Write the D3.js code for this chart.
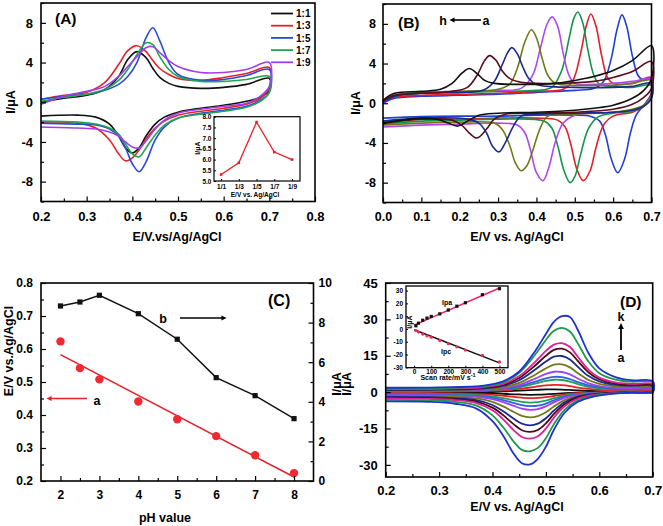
<!DOCTYPE html>
<html><head><meta charset="utf-8">
<script src="https://cdn.jsdelivr.net/npm/d3@7"></script>
<style>
body{margin:0;background:#fff;}
svg{display:block;}
</style></head><body>
<svg id="c" width="663" height="526"></svg>
<script>
// ================= DATA =================
// ---- Panel A : CVs at different ratios ----
const aLegend = ["1:1","1:3","1:5","1:7","1:9"];
const aColors = ["#111111","#e8202a","#2a4bd7","#22a550","#a03ff0"];
const aXTicks = [0.2,0.3,0.4,0.5,0.6,0.7,0.8];
const aYTicks = [-8,-4,0,4,8];
const aFwdE = [0.2,0.25,0.3,0.34,0.37,0.39,0.41,0.43,0.445,0.46,0.48,0.5,0.55,0.6,0.65,0.7];
const aRevE = [0.7,0.68,0.65,0.6,0.55,0.5,0.47,0.45,0.43,0.415,0.40,0.385,0.37,0.35,0.32,0.28,0.2];
const aFwd_11 = [0.0,0.4,0.7,1.3,2.6,4.3,5.1,4.5,3.4,2.5,1.9,1.6,1.4,1.5,1.8,2.4];
const aFwd_13 = [0.3,0.7,1.0,2.0,3.8,5.2,5.7,5.1,4.2,3.4,2.8,2.4,2.2,2.5,2.9,3.5];
const aFwd_15 = [0.3,0.6,0.8,1.2,1.8,2.6,4.0,6.5,7.5,6.2,4.0,2.8,2.2,2.3,2.7,3.3];
const aFwd_17 = [0.1,0.5,0.8,1.3,2.2,3.3,4.8,6.0,5.8,4.6,3.3,2.6,2.1,2.1,2.3,2.6];
const aFwd_19 = [-0.2,0.6,1.1,1.6,2.6,3.6,4.6,5.5,5.6,5.0,4.2,3.6,3.0,3.0,3.3,4.0];
const aRev_11 = [1.2,0.5,0.1,-0.3,-0.6,-1.0,-1.5,-2.2,-3.4,-4.6,-5.1,-4.6,-3.4,-2.2,-1.5,-1.3,-1.4];
const aRev_13 = [1.5,0.4,-0.2,-0.6,-0.9,-1.3,-1.9,-2.6,-3.7,-4.8,-5.6,-5.9,-5.2,-3.8,-2.6,-2.1,-2.0];
const aRev_15 = [1.0,0.2,-0.4,-0.8,-1.1,-1.6,-2.5,-3.8,-6.0,-7.0,-6.2,-4.6,-3.4,-2.7,-2.3,-2.2,-2.1];
const aRev_17 = [1.0,0.1,-0.5,-0.9,-1.2,-1.6,-2.3,-3.3,-4.6,-5.5,-5.2,-4.2,-3.2,-2.6,-2.2,-2.0,-1.9];
const aRev_19 = [1.6,0.6,-0.1,-0.4,-0.7,-1.1,-1.8,-2.7,-3.9,-4.6,-4.5,-4.0,-3.4,-3.0,-2.7,-2.6,-2.5];
// inset A
const aInsetCat = ["1/1","1/3","1/5","1/7","1/9"];
const aInsetVal = [5.3,5.85,7.75,6.35,6.0];
const aInsetYTicks = [5.0,5.5,6.0,6.5,7.0,7.5,8.0];

// ---- Panel B : CVs at pH values (a..h) ----
const bNames = ["a","b","c","d","e","f","g","h"];
const bColors = ["#1f3fd6","#e41e26","#14944a","#b048f0","#6f7a1a","#1b2a8f","#5a0f1e","#111111"];
const bXTicks = [0,0.1,0.2,0.3,0.4,0.5,0.6,0.7];
const bFwd_a = [[0,0.0],[0.03,0.5],[0.1,0.7],[0.2,0.8],[0.3,0.9],[0.4,1.1],[0.5,1.3],[0.55,1.5],[0.575,2.2],[0.595,4.5],[0.61,7.4],[0.623,8.9],[0.635,7.8],[0.65,4.8],[0.665,2.8],[0.68,2.3],[0.7,2.5]];
const bRev_a = [[0.7,1.0],[0.68,-0.2],[0.66,-1.2],[0.645,-3.0],[0.63,-5.6],[0.612,-7.0],[0.595,-5.6],[0.58,-3.2],[0.565,-1.8],[0.54,-1.3],[0.5,-1.2],[0.4,-1.2],[0.3,-1.3],[0.2,-1.3],[0.1,-1.35],[0,-1.5]];
const bFwd_b = [[0,0.2],[0.03,0.6],[0.1,0.8],[0.2,0.9],[0.3,1.0],[0.4,1.2],[0.47,1.4],[0.495,2.3],[0.515,5.0],[0.53,7.8],[0.542,9.0],[0.555,7.8],[0.57,4.8],[0.585,2.6],[0.6,2.0],[0.65,2.0],[0.7,2.6]];
const bRev_b = [[0.7,1.0],[0.68,-0.3],[0.65,-0.9],[0.6,-1.3],[0.575,-2.2],[0.555,-4.5],[0.54,-6.8],[0.522,-7.8],[0.505,-6.6],[0.49,-4.2],[0.475,-2.4],[0.455,-1.7],[0.4,-1.5],[0.3,-1.5],[0.2,-1.6],[0.1,-1.6],[0,-1.8]];
const bFwd_c = [[0,0.2],[0.03,0.7],[0.1,1.0],[0.2,1.1],[0.3,1.2],[0.4,1.3],[0.44,1.6],[0.465,3.2],[0.485,6.5],[0.498,8.6],[0.508,9.2],[0.52,8.2],[0.535,5.2],[0.55,2.8],[0.565,1.9],[0.6,1.7],[0.65,1.6],[0.7,1.8]];
const bRev_c = [[0.7,0.6],[0.68,-0.3],[0.65,-0.8],[0.6,-1.0],[0.56,-1.4],[0.535,-2.6],[0.515,-5.2],[0.5,-7.4],[0.488,-8.0],[0.472,-6.8],[0.455,-4.2],[0.44,-2.5],[0.42,-1.8],[0.3,-1.6],[0.2,-1.7],[0.1,-1.8],[0,-2.1]];
const bFwd_d = [[0,0.1],[0.03,0.8],[0.1,1.1],[0.2,1.2],[0.3,1.3],[0.36,1.5],[0.39,2.8],[0.41,5.5],[0.428,8.0],[0.441,8.7],[0.455,7.8],[0.47,5.0],[0.485,2.8],[0.5,2.0],[0.55,1.9],[0.6,2.0],[0.65,2.2],[0.7,2.4]];
const bRev_d = [[0.7,0.8],[0.68,-0.2],[0.65,-0.7],[0.6,-0.9],[0.5,-1.2],[0.47,-2.0],[0.45,-3.8],[0.432,-6.5],[0.417,-7.8],[0.4,-7.0],[0.385,-4.8],[0.37,-3.0],[0.35,-2.2],[0.3,-2.0],[0.2,-2.1],[0.1,-2.2],[0,-2.4]];
const bFwd_e = [[0,0.2],[0.03,0.8],[0.1,1.1],[0.2,1.2],[0.3,1.4],[0.33,1.9],[0.35,3.5],[0.37,6.2],[0.387,7.4],[0.4,6.6],[0.415,4.5],[0.43,2.8],[0.45,2.0],[0.5,1.8],[0.55,1.8],[0.6,1.8],[0.65,2.0],[0.7,2.3]];
const bRev_e = [[0.7,0.7],[0.68,-0.2],[0.65,-0.6],[0.6,-0.9],[0.5,-1.1],[0.43,-1.3],[0.41,-2.5],[0.39,-4.8],[0.375,-6.3],[0.36,-6.8],[0.345,-6.0],[0.33,-4.2],[0.31,-2.6],[0.29,-2.0],[0.2,-1.9],[0.1,-2.0],[0,-2.2]];
const bFwd_f = [[0,0.1],[0.03,0.7],[0.1,1.0],[0.2,1.1],[0.26,1.3],[0.29,2.2],[0.31,3.8],[0.325,5.1],[0.336,5.6],[0.35,5.0],[0.365,3.6],[0.38,2.5],[0.4,1.9],[0.5,1.6],[0.6,1.6],[0.65,1.7],[0.7,2.0]];
const bRev_f = [[0.7,0.5],[0.68,-0.3],[0.65,-0.7],[0.6,-0.9],[0.5,-1.0],[0.4,-1.1],[0.36,-1.3],[0.34,-2.3],[0.32,-3.9],[0.302,-4.9],[0.285,-4.3],[0.27,-3.0],[0.25,-2.0],[0.22,-1.6],[0.1,-1.5],[0,-1.8]];
const bFwd_g = [[0,0.2],[0.03,0.8],[0.1,1.0],[0.18,1.2],[0.22,1.6],[0.245,2.8],[0.265,4.3],[0.278,4.8],[0.295,4.3],[0.31,3.3],[0.33,2.5],[0.36,2.1],[0.45,2.0],[0.55,2.2],[0.6,2.6],[0.65,3.2],[0.7,4.2]];
const bRev_g = [[0.7,1.5],[0.68,0.6],[0.65,-0.1],[0.6,-0.6],[0.5,-0.9],[0.4,-1.0],[0.32,-1.1],[0.29,-1.6],[0.27,-2.6],[0.245,-3.5],[0.225,-3.0],[0.205,-2.2],[0.18,-1.7],[0.1,-1.6],[0,-2.0]];
const bFwd_h = [[0,0.3],[0.03,1.0],[0.1,1.2],[0.15,1.4],[0.18,2.0],[0.205,3.0],[0.225,3.5],[0.245,3.0],[0.265,2.3],[0.29,2.0],[0.35,1.9],[0.45,2.0],[0.5,2.3],[0.55,2.7],[0.6,3.3],[0.65,4.3],[0.7,5.8]];
const bRev_h = [[0.7,2.5],[0.68,1.3],[0.65,0.5],[0.6,-0.2],[0.55,-0.5],[0.5,-0.7],[0.4,-0.9],[0.3,-1.0],[0.25,-1.2],[0.22,-1.8],[0.195,-2.3],[0.17,-2.0],[0.14,-1.6],[0.1,-1.5],[0,-2.0]];

// ---- Panel C : pH dependence ----
const cPH = [2,2.5,3,4,5,6,7,8];
const cEp = [0.623,0.542,0.508,0.441,0.387,0.336,0.278,0.224];
const cIp = [8.84,9.04,9.38,8.45,7.16,5.22,4.31,3.15];
const cFitPH = [2,8];
const cFitE = [0.583,0.212];
const cXTicks = [2,3,4,5,6,7,8];
const cYTicks = [0.2,0.3,0.4,0.5,0.6,0.7,0.8];
const cY2Ticks = [0,2,4,6,8,10];

// ---- Panel D : scan rates (a..k) ----
const dNames = ["a","b","c","d","e","f","g","h","i","j","k"];
const dColors = ["#111111","#e8202a","#22a05a","#3060e0","#a040f0","#717a1e","#1b2a8f","#4a0a1a","#e0209a","#1f9a4a","#1f32d0"];
const dXTicks = [0.2,0.3,0.4,0.5,0.6,0.7];
const dYTicks = [-30,-15,0,15,30,45];
const dFwdE = [0.2,0.3,0.38,0.42,0.45,0.48,0.5,0.515,0.53,0.545,0.56,0.58,0.6,0.63,0.66,0.7];
const dRevE = [0.7,0.66,0.62,0.59,0.56,0.535,0.515,0.5,0.485,0.47,0.455,0.44,0.42,0.4,0.37,0.33,0.28,0.2];
const dFwd_a = [0.0,0.05,0.2,0.3,0.6,0.9,1.1,1.1,1.05,0.9,0.7,0.5,0.4,0.3,0.3,0.3];
const dFwd_b = [0.1,0.2,0.4,0.7,1.3,2.2,2.8,3.0,2.9,2.5,1.9,1.3,0.9,0.7,0.6,0.6];
const dFwd_c = [0.3,0.4,0.7,1.1,2.0,3.5,4.6,5.1,5.0,4.3,3.3,2.2,1.6,1.1,1.0,1.0];
const dFwd_d = [0.4,0.5,0.8,1.3,2.4,4.3,5.7,6.3,6.2,5.4,4.1,2.8,2.0,1.4,1.2,1.2];
const dFwd_e = [0.5,0.6,1.0,1.6,3.0,5.6,7.5,8.4,8.3,7.3,5.6,3.6,2.5,1.8,1.6,1.5];
const dFwd_f = [0.7,0.8,1.2,2.0,3.8,7.2,9.8,11.3,11.4,10.2,7.8,5.0,3.4,2.4,2.1,2.0];
const dFwd_g = [0.9,1.0,1.5,2.6,4.9,9.3,12.6,14.6,14.9,13.5,10.4,6.6,4.4,3.0,2.6,2.5];
const dFwd_h = [1.0,1.2,1.8,3.0,5.8,11.0,15.0,17.4,17.9,16.4,12.8,8.1,5.3,3.5,3.0,2.9];
const dFwd_i = [1.2,1.4,2.0,3.4,6.6,12.5,17.0,19.6,20.2,18.6,14.5,9.2,6.0,4.0,3.4,3.2];
const dFwd_j = [1.5,1.7,2.3,4.0,8.0,15.5,21.5,25.3,26.5,25.0,20.0,12.5,7.8,5.2,4.3,4.0];
const dFwd_k = [1.8,2.0,2.6,4.5,8.5,17.0,24.0,29.0,31.3,31.0,25.5,16.0,9.8,6.2,4.9,4.5];
const dRev_a = [0.1,0,0,-0.1,-0.2,-0.4,-0.7,-0.9,-1.05,-1.1,-1.0,-0.9,-0.7,-0.5,-0.4,-0.3,-0.3,-0.3];
const dRev_b = [0.1,0,0,-0.2,-0.4,-0.9,-1.6,-2.1,-2.4,-2.5,-2.3,-2.0,-1.5,-1.1,-0.8,-0.7,-0.6,-0.6];
const dRev_c = [0.1,0,-0.1,-0.3,-0.7,-1.4,-2.5,-3.5,-4.1,-4.3,-4.0,-3.4,-2.5,-1.8,-1.2,-1.0,-0.9,-0.9];
const dRev_d = [0.1,0,-0.1,-0.4,-0.9,-1.9,-3.4,-4.7,-5.6,-5.8,-5.4,-4.5,-3.3,-2.4,-1.6,-1.2,-1.1,-1.1];
const dRev_e = [0.1,0,-0.2,-0.5,-1.1,-2.4,-4.2,-5.9,-7.0,-7.3,-6.8,-5.7,-4.1,-2.9,-1.9,-1.5,-1.3,-1.3];
const dRev_f = [0.1,0,-0.2,-0.6,-1.5,-3.3,-5.9,-8.3,-9.9,-10.4,-9.8,-8.2,-5.9,-4.0,-2.6,-2.0,-1.7,-1.6];
const dRev_g = [0.1,-0.1,-0.3,-0.8,-1.9,-4.2,-7.6,-10.8,-13.0,-13.7,-13.0,-11.0,-7.9,-5.3,-3.3,-2.5,-2.1,-2.0];
const dRev_h = [0.1,-0.1,-0.4,-1.0,-2.3,-5.0,-9.0,-12.9,-15.6,-16.4,-15.7,-13.3,-9.5,-6.4,-3.9,-2.9,-2.5,-2.3];
const dRev_i = [0.2,-0.1,-0.5,-1.2,-2.7,-5.8,-10.5,-15.0,-18.2,-19.2,-18.5,-15.8,-11.2,-7.5,-4.5,-3.3,-2.8,-2.6];
const dRev_j = [0.2,-0.2,-0.7,-1.5,-3.4,-7.3,-13.2,-19.0,-23.0,-24.4,-23.8,-20.5,-14.5,-9.6,-5.6,-4.0,-3.4,-3.2];
const dRev_k = [0.3,-0.2,-0.8,-1.8,-4.0,-8.5,-15.5,-22.5,-27.5,-29.8,-29.3,-25.5,-18.0,-12.0,-6.8,-4.8,-4.0,-3.8];
// inset D
const dRate = [10,25,50,75,100,150,200,250,300,400,500];
const dIpa = [2.5,4.5,6.8,8.5,9.8,11.8,14.8,17.8,20.5,26.8,31.5];
const dIpc = [-1.2,-2.4,-4.0,-5.4,-6.5,-9.0,-11.5,-14.0,-16.5,-20.6,-25.8];
const dFitRate = [0,500];
const dFitIpa = [3.0,32.0];
const dFitIpc = [-0.6,-26.5];
const dInXTicks = [0,100,200,300,400,500];
const dInYTicks = [-30,-20,-10,0,10,20,30];

// ================= DRAW =================
const F = '"Liberation Sans", Arial, Helvetica, sans-serif';
const svg = d3.select('#c');
const defs = svg.append('defs');
function marker(id,color){
  defs.append('marker').attr('id',id).attr('viewBox','0 0 10 10').attr('refX',5).attr('refY',5)
    .attr('markerWidth',3.2).attr('markerHeight',3.2).attr('orient','auto-start-reverse')
    .append('path').attr('d','M0,0 L10,5 L0,10 z').attr('fill',color);
}
marker('arK','#000'); marker('arR','#e8202a');

function txt(x,y,s,o={}){
  const t = svg.append('text').attr('x',x).attr('y',y).text(s)
    .attr('font-family',F).attr('font-weight','bold').attr('font-size',o.fs||12.5)
    .attr('fill',o.fill||'#000').attr('text-anchor',o.anchor||'start');
  if(o.rot) t.attr('transform',`rotate(-90,${x},${y})`);
  return t;
}

function mk(gen,pos,vals,len,fmt,pad,isB,fs,tw){
  const g = svg.append('g').attr('transform',isB?`translate(0,${pos})`:`translate(${pos},0)`)
    .call(gen.tickValues(vals).tickSize(-len).tickPadding(pad).tickFormat(fmt||(()=> '')));
  g.select('.domain').remove();
  g.selectAll('line').attr('stroke','#000').attr('stroke-width',tw||1.2);
  g.selectAll('text').attr('font-size',fs).attr('font-weight','bold').attr('font-family',F).attr('fill','#000');
  return g;
}
function box(x,y,fw,fill){
  const [l,r]=x.range(), [b,t]=y.range();
  svg.append('rect').attr('x',l).attr('y',t).attr('width',r-l).attr('height',b-t)
    .attr('fill',fill||'none').attr('stroke','#000').attr('stroke-width',fw||1.6);
}
function axes(x,y,o){
  const [l,r]=x.range(), [b,t]=y.range();
  mk(d3.axisBottom(x),b,o.xMaj,5,o.xFmt,o.xPad,true,o.fs);
  if(o.xMin) mk(d3.axisBottom(x),b,o.xMin,3,null,0,true,o.fs);
  mk(d3.axisLeft(y),l,o.yMaj,5,o.yFmt,o.yPad,false,o.fs);
  if(o.yMin) mk(d3.axisLeft(y),l,o.yMin,3,null,0,false,o.fs);
  box(x,y);
}
const mid = a => a.slice(0,-1).map((v,i)=>+((v+a[i+1])/2).toFixed(3));
const lineGen = (x,y) => d3.line().x(d=>x(d[0])).y(d=>y(d[1])).curve(d3.curveCatmullRom.alpha(0.5));
const zip = (E,I) => E.map((e,i)=>[e,I[i]]);

// ---------- Panel A ----------
const xA = d3.scaleLinear().domain([0.2,0.8]).range([41,315]);
const yA = d3.scaleLinear().domain([-10,10]).range([201.5,3]);
const aF = [aFwd_11,aFwd_13,aFwd_15,aFwd_17,aFwd_19];
const aR = [aRev_11,aRev_13,aRev_15,aRev_17,aRev_19];
const lA = lineGen(xA,yA);
aF.forEach((f,i)=>{
  svg.append('path').attr('d',lA(zip(aFwdE,f).concat(zip(aRevE,aR[i]))))
    .attr('fill','none').attr('stroke',aColors[i]).attr('stroke-width',1.6);
});
axes(xA,yA,{xMaj:aXTicks,xMin:mid(aXTicks),yMaj:aYTicks,yMin:[-10,-6,-2,2,6,10],
  xFmt:d=>d.toFixed(1),yFmt:d=>String(d),xPad:10,yPad:8,fs:13});
// legend
aLegend.forEach((s,i)=>{
  const yy = 13.5 + i*12.2;
  svg.append('line').attr('x1',271).attr('x2',293).attr('y1',yy).attr('y2',yy)
    .attr('stroke',aColors[i]).attr('stroke-width',1.8);
  txt(296,yy+3.6,s,{fs:10});
});
txt(55,24,'(A)',{fs:15.5});
txt(177,241,'E/V.vs/Ag/AgCl',{anchor:'middle'});
txt(14.5,102,'I/\u03bcA',{anchor:'middle',rot:true});
// inset A
const xAi = d3.scaleLinear().domain([-0.4,4.45]).range([214,300]);
const yAi = d3.scaleLinear().domain([5,8]).range([181,116.7]);
box(xAi,yAi,1.2,'#fff');
mk(d3.axisLeft(yAi),214,aInsetYTicks,2,d=>d.toFixed(1),2.5,false,6.5,1);
mk(d3.axisBottom(xAi),181,d3.range(aInsetCat.length),2,i=>aInsetCat[i],3,true,6.5,1);
svg.append('path').attr('d',d3.line().x((d,i)=>xAi(i)).y(d=>yAi(d))(aInsetVal))
  .attr('fill','none').attr('stroke','#e8202a').attr('stroke-width',1.3);
svg.selectAll(null).data(aInsetVal).enter().append('rect')
  .attr('x',(d,i)=>xAi(i)-1.3).attr('y',d=>yAi(d)-1.3).attr('width',2.6).attr('height',2.6).attr('fill','#e8202a');
txt(255,196.5,'E/V vs. Ag/AgCl',{fs:6.5,anchor:'middle'});
txt(199.5,148,'I/\u03bcA',{fs:7,anchor:'middle',rot:true});

// ---------- Panel B ----------
const xB = d3.scaleLinear().domain([0,0.7]).range([383,651.5]);
const yB = d3.scaleLinear().domain([-10,10]).range([202.5,4]);
const lB = lineGen(xB,yB);
const bF = [bFwd_a,bFwd_b,bFwd_c,bFwd_d,bFwd_e,bFwd_f,bFwd_g,bFwd_h];
const bR = [bRev_a,bRev_b,bRev_c,bRev_d,bRev_e,bRev_f,bRev_g,bRev_h];
bF.forEach((f,i)=>{
  svg.append('path').attr('d',lB(f.concat(bR[i])))
    .attr('fill','none').attr('stroke',bColors[i]).attr('stroke-width',1.6);
});
axes(xB,yB,{xMaj:bXTicks,xMin:mid(bXTicks),yMaj:aYTicks,yMin:[-10,-6,-2,2,6,10],
  xFmt:d=>d.toFixed(1),yFmt:d=>String(d),xPad:10,yPad:7,fs:12.5});
txt(398,27.5,'(B)',{fs:15.5});
txt(443,24.5,'h',{fs:12.5,anchor:'middle'});
svg.append('line').attr('x1',481).attr('x2',452).attr('y1',20).attr('y2',20)
  .attr('stroke','#000').attr('stroke-width',1.6).attr('marker-end','url(#arK)');
txt(486,24.5,'a',{fs:12.5,anchor:'middle'});
txt(517,241,'E/V vs. Ag/AgCl',{anchor:'middle'});
txt(359.5,103,'I/\u03bcA',{anchor:'middle',rot:true});

// ---------- Panel C ----------
const xC = d3.scaleLinear().domain([1.5,8.5]).range([41,313.5]);
const yC = d3.scaleLinear().domain([0.2,0.8]).range([481,283]);
const yC2 = d3.scaleLinear().domain([0,10]).range([481,283]);
// red fit line and dots
svg.append('path').attr('d',d3.line().x(d=>xC(d[0])).y(d=>yC(d[1]))(zip(cFitPH,cFitE)))
  .attr('stroke','#e8202a').attr('stroke-width',1.6).attr('fill','none');
svg.selectAll(null).data(zip(cPH,cEp)).enter().append('circle')
  .attr('cx',d=>xC(d[0])).attr('cy',d=>yC(d[1])).attr('r',4.2).attr('fill','#f02a30');
// black line with squares
svg.append('path').attr('d',d3.line().x(d=>xC(d[0])).y(d=>yC2(d[1]))(zip(cPH,cIp)))
  .attr('stroke','#111').attr('stroke-width',1.5).attr('fill','none');
svg.selectAll(null).data(zip(cPH,cIp)).enter().append('rect')
  .attr('x',d=>xC(d[0])-2.6).attr('y',d=>yC2(d[1])-2.6).attr('width',5.2).attr('height',5.2).attr('fill','#111');
axes(xC,yC,{xMaj:cXTicks,xMin:[2.5,3.5,4.5,5.5,6.5,7.5],yMaj:cYTicks,yMin:mid(cYTicks),
  xFmt:d=>String(d),yFmt:d=>d.toFixed(1),xPad:9,yPad:8,fs:12});
mk(d3.axisRight(yC2),313.5,cY2Ticks,5,d=>String(d),5,false,12);
mk(d3.axisRight(yC2),313.5,[1,3,5,7,9],3,null,0,false,12);
txt(268,306,'(C)',{fs:16});
txt(163,322.5,'b',{fs:12.5,anchor:'middle'});
svg.append('line').attr('x1',180).attr('x2',224).attr('y1',318).attr('y2',318)
  .attr('stroke','#000').attr('stroke-width',1.6).attr('marker-end','url(#arK)');
txt(97,404.5,'a',{fs:12.5,anchor:'middle'});
svg.append('line').attr('x1',87).attr('x2',49).attr('y1',398.5).attr('y2',398.5)
  .attr('stroke','#e8202a').attr('stroke-width',1.6).attr('marker-end','url(#arR)');
txt(165,522,'pH value',{anchor:'middle'});
txt(12.5,351,'E/V vs.Ag/AgCl',{anchor:'middle',rot:true});
txt(341,384,'I/\u03bcA',{anchor:'middle',rot:true});

// ---------- Panel D ----------
const xD = d3.scaleLinear().domain([0.2,0.7]).range([385.7,652.7]);
const yD = d3.scaleLinear().domain([-35,45]).range([477,283]);
const lD = lineGen(xD,yD);
const dF = [dFwd_a,dFwd_b,dFwd_c,dFwd_d,dFwd_e,dFwd_f,dFwd_g,dFwd_h,dFwd_i,dFwd_j,dFwd_k];
const dR = [dRev_a,dRev_b,dRev_c,dRev_d,dRev_e,dRev_f,dRev_g,dRev_h,dRev_i,dRev_j,dRev_k];
dF.forEach((f,i)=>{
  svg.append('path').attr('d',lD(zip(dFwdE,f).concat(zip(dRevE,dR[i]))))
    .attr('fill','none').attr('stroke',dColors[i]).attr('stroke-width',1.8);
});
axes(xD,yD,{xMaj:dXTicks,xMin:mid(dXTicks),yMaj:dYTicks,yMin:mid(dYTicks),
  xFmt:d=>d.toFixed(1),yFmt:d=>String(d),xPad:9,yPad:8,fs:13});
txt(620,307,'(D)',{fs:15.5});
txt(621,321,'k',{fs:12.5,anchor:'middle'});
svg.append('line').attr('x1',621).attr('x2',621).attr('y1',350).attr('y2',326)
  .attr('stroke','#000').attr('stroke-width',1.8).attr('marker-end','url(#arK)');
txt(621,362,'a',{fs:12.5,anchor:'middle'});
txt(517,511,'E/V vs. Ag/AgCl',{anchor:'middle'});
txt(350.5,384,'I/\u03bcA',{anchor:'middle',rot:true});
// inset D
const xDi = d3.scaleLinear().domain([-48,550]).range([406,508]);
const yDi = d3.scaleLinear().domain([-30.3,33.6]).range([367.7,286]);
box(xDi,yDi,1.3,'#fff');
mk(d3.axisLeft(yDi),406,dInYTicks,2,d=>String(d),3,false,6.5,1);
mk(d3.axisBottom(xDi),367.7,dInXTicks,2,d=>String(d),2,true,6.5,1);
const lDi = d3.line().x(d=>xDi(d[0])).y(d=>yDi(d[1]));
svg.append('path').attr('d',lDi(zip(dFitRate,dFitIpa))).attr('stroke','#f0206a').attr('stroke-width',1.5).attr('fill','none');
svg.append('path').attr('d',lDi(zip(dFitRate,dFitIpc))).attr('stroke','#111').attr('stroke-width',1.5).attr('fill','none');
svg.selectAll(null).data(zip(dRate,dIpa)).enter().append('rect')
  .attr('x',d=>xDi(d[0])-1.6).attr('y',d=>yDi(d[1])-1.6).attr('width',3.2).attr('height',3.2).attr('fill','#111');
svg.selectAll(null).data(zip(dRate,dIpc)).enter().append('circle')
  .attr('cx',d=>xDi(d[0])).attr('cy',d=>yDi(d[1])).attr('r',1.6).attr('fill','#f02a50');
txt(447,305,'Ipa',{fs:7,anchor:'middle'});
txt(446,354,'Ipc',{fs:7,anchor:'middle'});
const st = txt(448,380,'Scan rate/mV s',{fs:7,anchor:'middle'});
st.append('tspan').attr('dy',-3).attr('font-size',5.5).text('-1');
txt(412,322,'I/\u03bcA',{fs:7,anchor:'middle',rot:true});
</script>
</body></html>
